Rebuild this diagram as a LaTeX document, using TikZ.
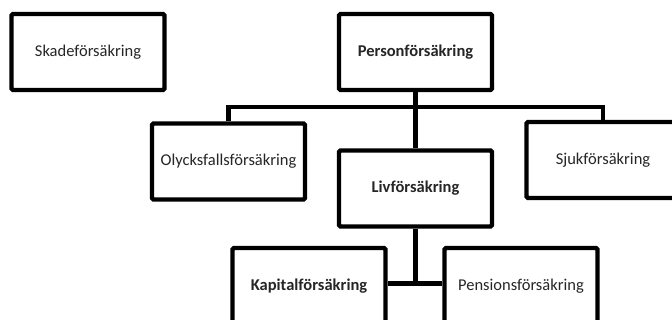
\documentclass[tikz,border=0pt]{standalone}
\usepackage{fontspec}
\setmainfont{Carlito}
\begin{document}
\begin{tikzpicture}[x=1pt,y=-1pt,
  box/.style={draw=black,line width=4.3pt,rounded corners=1.5pt,fill=white,
    minimum width=153pt,minimum height=76pt,inner sep=0pt,align=center,
    text=black!85,font=\fontsize{16.5}{19}\selectfont},
  boldbox/.style={box,font=\fontsize{16.5}{19}\selectfont\bfseries},
  link/.style={draw=black,line width=4.5pt}]
\useasboundingbox (0,0) rectangle (672,320);
\coordinate (bar) at (415.5,107);
\coordinate (tee) at (415.5,283.5);
\node[boldbox] (person) at (415.5,52) {Personförsäkring};
\node[box] (olycks) at (228.5,161.5) {Olycksfallsförsäkring};
\node[box] (sjuk) at (603,160) {Sjukförsäkring};
\node[boldbox] (liv) at (415.5,188.5) {Livförsäkring};
\node[boldbox] (kapital) at (309,286) {Kapitalförsäkring};
\node[box] (pension) at (521,286) {Pensionsförsäkring};
\node[box] (skade) at (88,52) {Skadeförsäkring};
\draw[link] (person.south) -- (liv.north);
\draw[link] (olycks.north) |- (bar) -| (sjuk.north);
\draw[link] (liv.south) -- (tee);
\draw[link] (kapital.east |- tee) -- (pension.west |- tee);
\end{tikzpicture}
\end{document}
